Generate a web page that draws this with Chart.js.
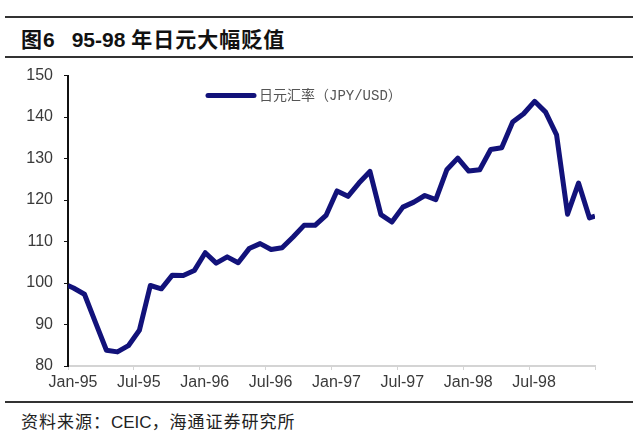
<!DOCTYPE html>
<html>
<head>
<meta charset="utf-8">
<script src="https://cdn.jsdelivr.net/npm/chart.js@4/dist/chart.umd.min.js"></script>
<style>
  html, body { margin: 0; padding: 0; background: #fff; }
  body { width: 640px; height: 444px; position: relative; overflow: hidden; font-family: "Liberation Sans", "Noto Sans CJK SC", sans-serif; }
  .rule { position: absolute; left: 5px; width: 628px; height: 2px; background: #333; }
  #title { position: absolute; left: 21px; top: 25px; font-size: 21px; font-weight: bold; color: #111; white-space: nowrap; line-height: 26px; }
  #title .cjk { font-family: "Noto Sans CJK SC", sans-serif; letter-spacing: 1px; }
  #title .num { font-family: "Liberation Sans", sans-serif; }
  #footer { position: absolute; left: 21px; top: 409px; font-size: 17px; color: #222; white-space: nowrap; line-height: 24px; }
  #footer .cjk { font-family: "Noto Sans CJK SC", sans-serif; letter-spacing: 1px; }
  #wrap { position: absolute; left: 0; top: 55px; width: 640px; height: 345px; }
</style>
</head>
<body>
<div class="rule" style="top:16px"></div>
<div id="title"><span class="cjk">图</span><span class="num">6</span><span class="num" style="margin-left:17px">95-98</span> <span class="cjk">年日元大幅贬值</span></div>
<div class="rule" style="top:56px"></div>
<div id="wrap"><canvas id="fxChart"></canvas></div>
<div class="rule" style="top:401px"></div>
<div id="footer"><span class="cjk">资料来源：</span>CEIC<span class="cjk">，海通证券研究所</span></div>
<script>
// x tick labels, one every 6 months (Jan-95 .. Jul-98, last tick left blank)
const xTickLabels = ['Jan-95', 'Jul-95', 'Jan-96', 'Jul-96', 'Jan-97', 'Jul-97', 'Jan-98', 'Jul-98', ''];

// month positions: axis start, mid-month points, axis end
const rateMonths = [0, ...Array.from({ length: 48 }, (_, i) => i + 0.5), 48];

// JPY per USD
const jpyRate = [
    99.4, 98.8, 97.3, 90.5, 83.8, 83.4, 84.9, 88.6, 99.4, 98.6,
    101.9, 101.8, 103.0, 107.3, 104.8, 106.3, 104.9, 108.3, 109.5, 108.1,
    108.5, 111.1, 113.9, 113.9, 116.3, 122.2, 120.9, 124.1, 126.9, 116.5,
    114.7, 118.3, 119.5, 121.1, 120.1, 127.3, 130.1, 127.0, 127.3, 132.2,
    132.6, 138.8, 140.8, 143.8, 141.2, 135.7, 116.6, 124.1, 115.7, 116.1
];

const seriesLabel = '日元汇率（JPY/USD）';
const lineColor = '#12127a';

// legend drawn inside the plot, near the top
const insideLegend = {
    id: 'insideLegend',
    afterDraw(chart) {
        const { ctx, chartArea } = chart;
        const y = chartArea.top + 20;
        const x0 = chartArea.left + 140;
        ctx.save();
        ctx.strokeStyle = lineColor;
        ctx.lineWidth = 5;
        ctx.lineCap = 'round';
        ctx.beginPath();
        ctx.moveTo(x0, y);
        ctx.lineTo(x0 + 46, y);
        ctx.stroke();
        ctx.fillStyle = '#555';
        ctx.font = '14px "Liberation Mono", "Noto Sans CJK SC", monospace';
        ctx.textBaseline = 'middle';
        ctx.fillText(chart.data.datasets[0].label, x0 + 51, y + 1);
        ctx.restore();
    }
};

const ctx = document.getElementById('fxChart').getContext('2d');
new Chart(ctx, {
    type: 'line',
    data: {
        datasets: [{
            label: seriesLabel,
            data: rateMonths.map((m, i) => ({ x: m, y: jpyRate[i] })),
            borderColor: lineColor,
            backgroundColor: lineColor,
            borderWidth: 5,
            pointRadius: 0,
            tension: 0,
            fill: false,
            borderJoinStyle: 'round',
            borderCapStyle: 'butt'
        }]
    },
    options: {
        responsive: true, maintainAspectRatio: false,
        animation: false,
        layout: { padding: { left: 0, right: 45, top: 8, bottom: 0 } },
        scales: {
            x: {
                type: 'linear', min: 0, max: 48,
                afterFit: (scale) => { scale.height = 34; },
                grid: { drawOnChartArea: false, drawTicks: true, tickLength: 4, color: '#d4d4d4', lineWidth: 1 },
                border: { color: '#d4d4d4', width: 2 },
                ticks: {
                    stepSize: 6, autoSkip: false, maxRotation: 0, padding: 3, labelOffset: 5,
                    color: '#3a3a3a', font: { family: '"Liberation Sans", Arial, sans-serif', size: 16 },
                    callback: (v) => xTickLabels[v / 6] ?? ''
                }
            },
            y: {
                min: 80, max: 150,
                afterFit: (scale) => { scale.width = 68; },
                grid: { drawOnChartArea: false, drawTicks: true, tickLength: 4, color: '#111' },
                border: { color: '#111', width: 2 },
                ticks: {
                    stepSize: 10, padding: 11,
                    color: '#3a3a3a', font: { family: '"Liberation Sans", Arial, sans-serif', size: 16 }
                }
            }
        },
        plugins: {
            legend: { display: false },
            tooltip: { enabled: false }
        }
    },
    plugins: [insideLegend]
});
</script>
</body>
</html>
